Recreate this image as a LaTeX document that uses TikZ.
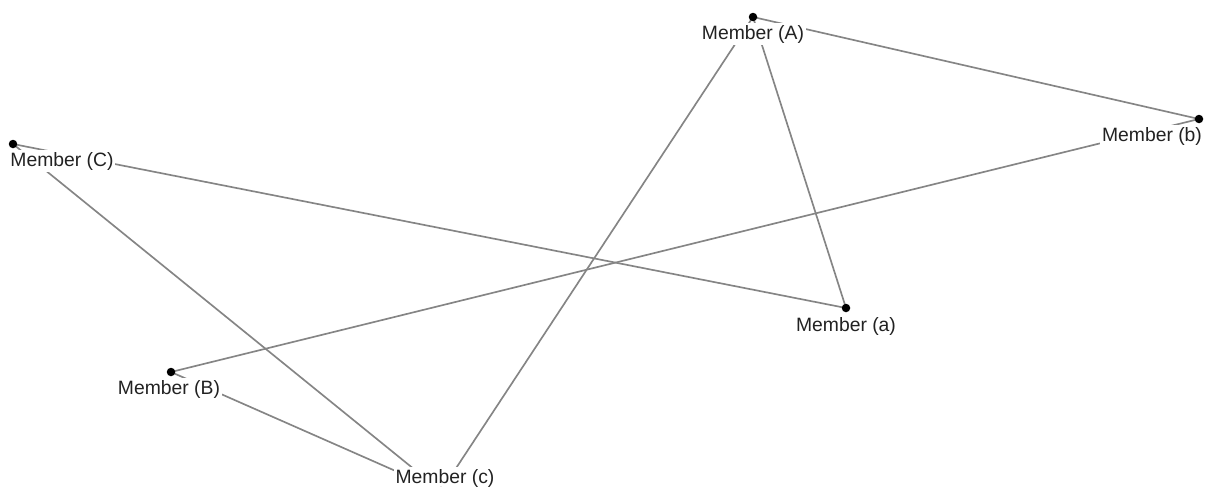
\documentclass[tikz,border=0pt]{standalone}
\usepackage{fontspec}
\setmainfont{Liberation Sans}

\definecolor{edgegray}{HTML}{858585}
\definecolor{labelgray}{HTML}{222222}

\tikzstyle{dot} = [circle, fill = black, draw = none, inner sep = 0pt, minimum size = 0.17cm]
\tikzstyle{lab} = [fill = white, inner sep = 1pt, text = labelgray, font = \fontsize{11}{13}\selectfont]
\tikzstyle{link} = [draw = edgegray, line width = 0.95pt]

\begin{document}
\begin{tikzpicture}[x = 0.02cm, y = -0.02cm]
    \useasboundingbox (0,0) rectangle (1205,487);
    \clip (0,0) rectangle (1205,487);

    % member positions
    \coordinate (A) at (753,17);
    \coordinate (b) at (1199,119);
    \coordinate (C) at (13,144);
    \coordinate (a) at (846,308);
    \coordinate (B) at (171,372);
    \coordinate (c) at (441,491);

    % links
    \draw [link] (A) -- (b);
    \draw [link] (A) -- (a);
    \draw [link] (A) -- (c);
    \draw [link] (C) -- (a);
    \draw [link] (C) -- (c);
    \draw [link] (B) -- (b);
    \draw [link] (B) -- (c);

    % labels
    \node [lab] (lA) at (753,34) {Member (A)};
    \node [lab] (lb) at (1152,136) {Member (b)};
    \node [lab] (lC) at (62,161) {Member (C)};
    \node [lab] (la) at (846,326) {Member (a)};
    \node [lab] (lB) at (169,389) {Member (B)};
    \node [lab] (lc) at (445,478) {Member (c)};

    % dots
    \node [dot] (dA) at (A) {};
    \node [dot] (db) at (b) {};
    \node [dot] (dC) at (C) {};
    \node [dot] (da) at (a) {};
    \node [dot] (dB) at (B) {};
    \node [dot] (dc) at (c) {};
\end{tikzpicture}
\end{document}
